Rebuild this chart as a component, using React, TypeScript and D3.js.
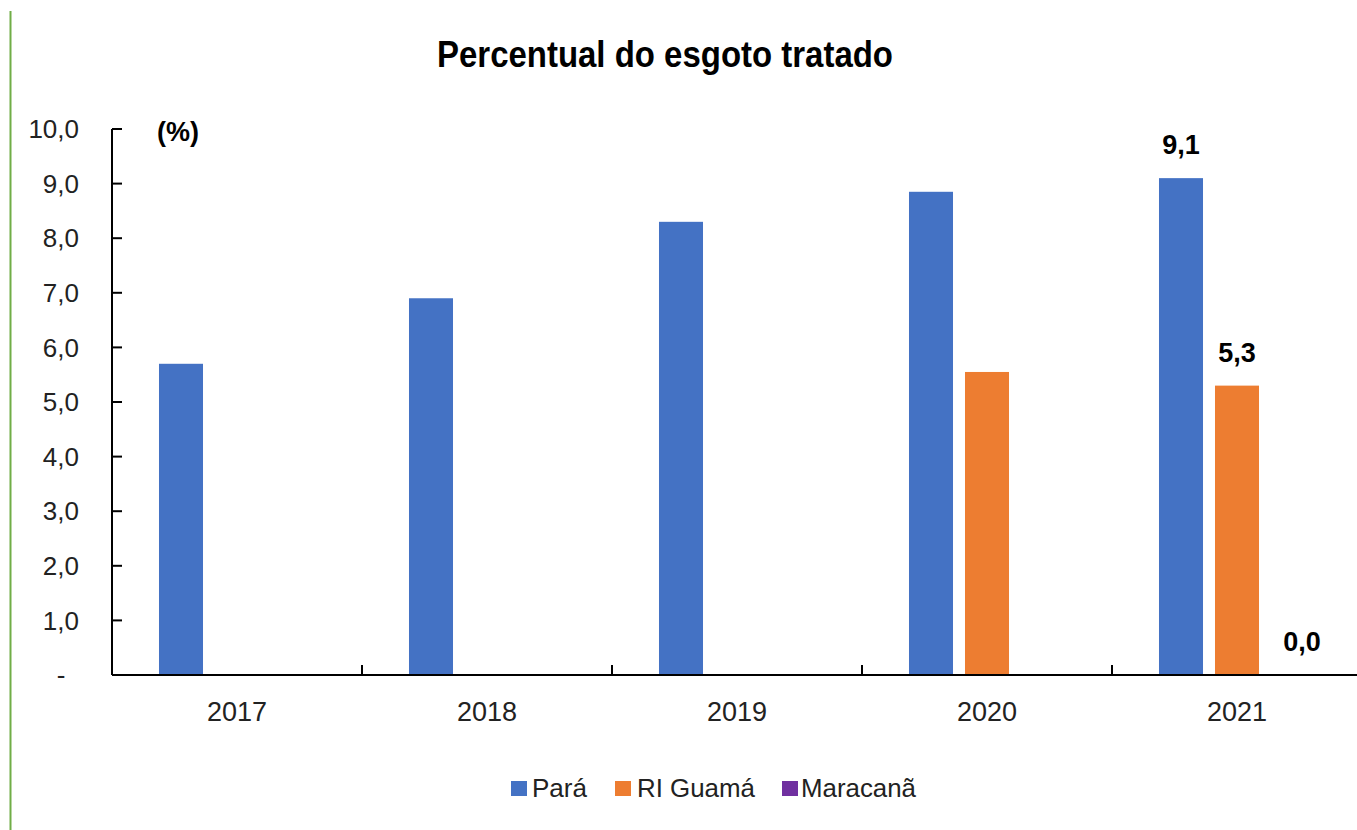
import React from "react";
import * as d3 from "d3";

const years = ["2017", "2018", "2019", "2020", "2021"];
const seriesNames = ["Pará", "RI Guamá", "Maracanã"];
const para = [5.7, 6.9, 8.3, 8.85, 9.1];
const guama = [null, null, null, 5.55, 5.3];
const maracana = [null, null, null, null, 0.0];
const seriesColors = ["#4472c4", "#ed7d31", "#7030a0"];
const yTicks = [0, 1, 2, 3, 4, 5, 6, 7, 8, 9, 10];
const labeledYear = "2021";

const W = 1357;
const H = 830;
const FONT = "'Liberation Sans Narrow', 'Arial Narrow', 'Liberation Sans', Arial, sans-serif";

export default function App() {
  const left = 112;
  const right = 1362;
  const top = 129;
  const bottom = 675;

  const x0 = d3.scaleBand<string>().domain(years).range([left, right]).padding(0);
  const x1 = d3
    .scaleBand<string>()
    .domain(seriesNames)
    .range([0, x0.bandwidth()])
    .paddingInner(0.214)
    .paddingOuter(0.839);
  const y = d3.scaleLinear().domain([0, 10]).range([bottom, top]);

  const allSeries = [para, guama, maracana];
  const fmt = (v: number) => v.toFixed(1).replace(".", ",");

  return (
    <svg
      width={W}
      height={H}
      style={{ position: "absolute", left: 0, top: 0, background: "#fff" }}
      fontFamily={FONT}
    >
      <rect x={0} y={0} width={W} height={H} fill="#fff" />
      <line x1={10.5} x2={10.5} y1={11} y2={H} stroke="#70ad47" strokeWidth={2} />

      <text
        x={437}
        y={67}
        fontSize={36}
        fontWeight="bold"
        fill="#000"
        textLength={456}
        lengthAdjust="spacingAndGlyphs"
      >
        Percentual do esgoto tratado
      </text>

      <text x={178} y={141} textAnchor="middle" fontSize={27} fontWeight="bold" fill="#000">
        (%)
      </text>

      {/* bars */}
      {allSeries.map((vals, si) =>
        years.map((yr, i) => {
          const v = vals[i];
          if (v === null || v === undefined) return null;
          const bx = (x0(yr) as number) + (x1(seriesNames[si]) as number);
          return (
            <rect
              key={`${si}-${yr}`}
              x={bx}
              y={y(v)}
              width={x1.bandwidth()}
              height={y(0) - y(v)}
              fill={seriesColors[si]}
            />
          );
        })
      )}

      {/* data labels */}
      {allSeries.map((vals, si) => {
        const i = years.indexOf(labeledYear);
        const v = vals[i];
        if (v === null || v === undefined) return null;
        const cx = (x0(labeledYear) as number) + (x1(seriesNames[si]) as number) + x1.bandwidth() / 2;
        return (
          <text
            key={`lbl-${si}`}
            x={cx + (si === 2 ? 9 : 0)}
            y={y(v) - 24}
            textAnchor="middle"
            fontSize={27}
            fontWeight="bold"
            fill="#000"
          >
            {fmt(v)}
          </text>
        );
      })}

      {/* y axis */}
      <line x1={left} x2={left} y1={top} y2={bottom} stroke="#000" strokeWidth={2} />
      {yTicks.map((t) => (
        <g key={`yt-${t}`}>
          <line x1={left} x2={left + 10} y1={y(t)} y2={y(t)} stroke="#000" strokeWidth={2} />
          <text
            x={t === 0 ? 61 : 79}
            y={y(t)}
            dy="0.35em"
            textAnchor={t === 0 ? "middle" : "end"}
            fontSize={26}
            fill="#222"
          >
            {t === 0 ? "-" : fmt(t)}
          </text>
        </g>
      ))}

      {/* x axis */}
      <line x1={left} x2={right} y1={bottom} y2={bottom} stroke="#000" strokeWidth={2} />
      {years.slice(1).map((yr) => (
        <line
          key={`xt-${yr}`}
          x1={x0(yr) as number}
          x2={x0(yr) as number}
          y1={bottom}
          y2={bottom - 10}
          stroke="#000"
          strokeWidth={2}
        />
      ))}
      {years.map((yr) => (
        <text
          key={`xl-${yr}`}
          x={(x0(yr) as number) + x0.bandwidth() / 2}
          y={721}
          textAnchor="middle"
          fontSize={27}
          fill="#222"
        >
          {yr}
        </text>
      ))}

      {/* legend */}
      {[
        { x: 511, tx: 532, w: 55 },
        { x: 615, tx: 637, w: 118 },
        { x: 782, tx: 801, w: 115 },
      ].map((p, i) => (
        <g key={`lg-${i}`}>
          <rect x={p.x} y={781} width={16} height={15} fill={seriesColors[i]} />
          <text
            x={p.tx}
            y={797}
            fontSize={25}
            fill="#222"
            textLength={p.w}
            lengthAdjust="spacingAndGlyphs"
          >
            {seriesNames[i]}
          </text>
        </g>
      ))}
    </svg>
  );
}
